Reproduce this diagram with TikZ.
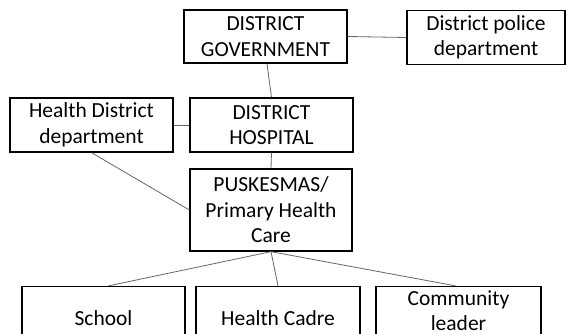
\documentclass[tikz,border=0pt]{standalone}
\usepackage{fontspec}
\setmainfont{Carlito}
\begin{document}
\begin{tikzpicture}[x=1pt,y=-1pt,
  box/.style={draw=black,line width=1.3pt,fill=white,align=center,inner sep=0pt,
    font=\fontsize{21.5}{25.5}\selectfont,minimum height=54pt},
  txt/.style={align=center,inner sep=0pt,font=\fontsize{21.5}{25}\selectfont},
  link/.style={draw=black!60,line width=0.8pt}]
\useasboundingbox (0,0) rectangle (567,334);
\clip (0,0) rectangle (567,334);
\fill[white] (0,0) rectangle (567,334);
\node[box,minimum width=163pt,minimum height=53pt] (gov) at (265.5,36.5) {DISTRICT\\GOVERNMENT};
\node[box,minimum width=158pt] (police) at (486,37.5) {District police\\department};
\node[box,minimum width=163pt] (hd) at (91.5,125) {Health District\\department};
\node[box,minimum width=163pt] (hosp) at (271.5,125) {DISTRICT\\HOSPITAL};
\node[box,minimum width=162pt,minimum height=82pt] (pusk) at (271,210) {PUSKESMAS/\\Primary Health\\Care};
\node[box,minimum width=163pt,minimum height=63pt] (school) at (103.5,318) {School};
\node[box,minimum width=164pt,minimum height=63pt] (cadre) at (278,318) {Health Cadre};
\node[box,minimum width=165pt,minimum height=63pt] (comm) at (458.5,318) {};
\node[txt] (commtxt) at (458.5,310.5) {Community\\leader};
\draw[link] (gov.east) -- (police.west);
\draw[link] ([xshift=1.5pt]gov.south) -- (hosp.north);
\draw[link] (hd.east) -- (hosp.west);
\draw[link] (hd.south) -- (pusk.west);
\draw[link] (hosp.south) -- (pusk.north);
\draw[link] (pusk.south) -- ([xshift=5pt]school.north);
\draw[link] (pusk.south) -- (cadre.north);
\draw[link] (pusk.south) -- ([xshift=-3pt]comm.north);
\end{tikzpicture}
\end{document}
